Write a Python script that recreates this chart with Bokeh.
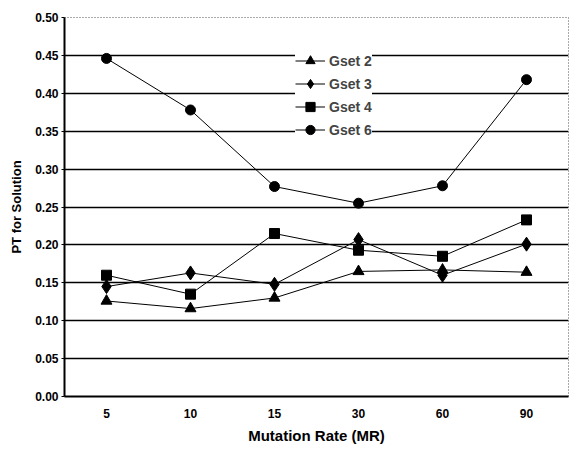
from bokeh.plotting import figure
from bokeh.models import (ColumnDataSource, FactorRange, Range1d, Legend, LegendItem,
                          FixedTicker, NumeralTickFormatter)
from bokeh.embed import file_html
from bokeh.resources import INLINE

rates = ["5", "10", "15", "30", "60", "90"]
gset2 = [0.126, 0.116, 0.130, 0.165, 0.167, 0.164]
gset3 = [0.145, 0.163, 0.148, 0.207, 0.160, 0.201]
gset4 = [0.160, 0.135, 0.215, 0.193, 0.185, 0.233]
gset6 = [0.446, 0.378, 0.277, 0.255, 0.278, 0.418]
y_ticks = [0.00, 0.05, 0.10, 0.15, 0.20, 0.25, 0.30, 0.35, 0.40, 0.45, 0.50]

FONT = "Liberation Sans"

p = figure(width=569, height=446, x_range=FactorRange(*rates, range_padding=0),
           y_range=Range1d(0, 0.5), output_backend="svg", toolbar_location=None,
           min_border_left=64, min_border_right=1, min_border_top=17, min_border_bottom=46)

p.outline_line_color = "#555555"
p.outline_line_dash = "1 2"
p.outline_line_width = 1

p.xgrid.grid_line_color = None
p.ygrid.grid_line_color = "black"
p.ygrid.grid_line_width = 1.5
p.ygrid.ticker = FixedTicker(ticks=y_ticks[1:-1])

p.yaxis.ticker = FixedTicker(ticks=y_ticks)
p.yaxis.formatter = NumeralTickFormatter(format="0.00")
for ax in (p.xaxis[0], p.yaxis[0]):
    ax.axis_line_color = "black"
    ax.axis_line_width = 2
    ax.major_tick_line_color = "black"
    ax.major_tick_out = 3
    ax.major_tick_in = 0
    ax.minor_tick_line_color = None
    ax.major_label_text_font = FONT
    ax.major_label_text_font_style = "bold"
    ax.major_label_text_font_size = "12px"
    ax.major_label_text_color = "black"
    ax.axis_label_text_font = FONT
    ax.axis_label_text_font_style = "bold"
    ax.axis_label_text_color = "black"
p.xaxis.major_tick_line_color = None
p.xaxis.major_label_standoff = 9
p.yaxis.major_label_standoff = 3
p.xaxis.axis_label = "Mutation Rate (MR)"
p.xaxis.axis_label_text_font_size = "15px"
p.xaxis.axis_label_standoff = 6
p.yaxis.axis_label = "PT for Solution"
p.yaxis.axis_label_text_font_size = "13px"
p.yaxis.axis_label_standoff = 8

src = ColumnDataSource(dict(x=rates, g2=gset2, g3=gset3, g4=gset4, g6=gset6))

items = []
specs = [("g2", "Gset 2", "triangle", 11),
         ("g3", "Gset 3", "diamond", 14),
         ("g4", "Gset 4", "square", 10),
         ("g6", "Gset 6", "circle", 10)]
for col, name, marker, size in specs:
    l = p.line("x", col, source=src, line_color="black", line_width=1)
    s = p.scatter("x", col, source=src, marker=marker, size=size,
                  fill_color="black", line_color="black")
    items.append(LegendItem(label=name, renderers=[l, s]))

legend = Legend(items=items, location=(231, 255), background_fill_color="white",
                background_fill_alpha=1, border_line_color=None,
                label_text_font=FONT, label_text_font_style="bold",
                label_text_font_size="14px", glyph_width=30, spacing=0,
                label_height=23, glyph_height=23, padding=5, margin=0,
                label_standoff=4)
p.add_layout(legend)

open("out.html", "w").write(file_html(p, INLINE))
